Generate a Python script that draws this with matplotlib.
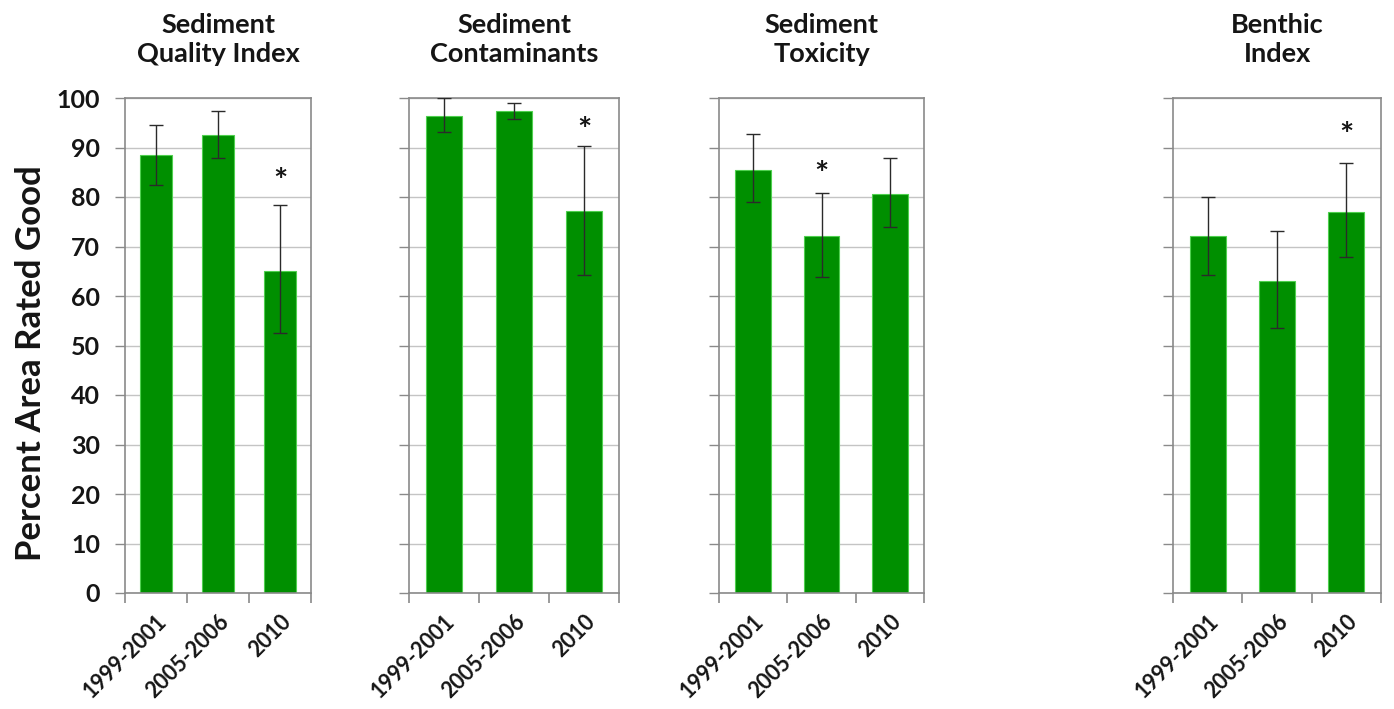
import matplotlib.pyplot as plt
import numpy as np

plt.rcParams['font.family'] = ['Lato', 'DejaVu Sans']
plt.rcParams['font.weight'] = 'bold'

# Survey periods and indicator panels
periods = ['1999-2001', '2005-2006', '2010']
titles = ['Sediment\nQuality Index', 'Sediment\nContaminants',
          'Sediment\nToxicity', 'Benthic\nIndex']

# Percent area rated good, with lower/upper confidence bounds
good = [
    [88.5, 92.5, 65.1],
    [96.4, 97.4, 77.2],
    [85.5, 72.1, 80.7],
    [72.1, 63.0, 76.9],
]
lower = [
    [82.4, 87.8, 52.5],
    [93.1, 95.7, 64.2],
    [78.9, 63.8, 74.0],
    [64.2, 53.5, 67.8],
]
upper = [
    [94.5, 97.4, 78.4],
    [100.0, 98.9, 90.4],
    [92.7, 80.9, 87.8],
    [79.9, 73.1, 86.8],
]
# Significant change flags (asterisk) and where the asterisk sits
star_idx = [2, 2, 1, 2]
star_y = [82.9, 93.2, 84.4, 92.2]

# Axes boxes in figure pixels: left, right
W, H = 1394, 709
boxes = [(125, 311), (409, 619), (719, 924), (1173, 1381)]
top_px, bot_px = 98, 593

fig = plt.figure(figsize=(W / 100, H / 100), dpi=100)

bar_green = '#008f00'
grid_col = '#c4c4c4'
frame_col = '#8a8a8a'
text_col = '#151515'

for k, (l, r) in enumerate(boxes):
    ax = fig.add_axes([l / W, 1 - bot_px / H, (r - l) / W, (bot_px - top_px) / H])
    x = np.arange(len(periods))
    vals = np.array(good[k])
    yerr = [vals - np.array(lower[k]), np.array(upper[k]) - vals]
    ax.bar(x, vals, width=0.52, color=bar_green, edgecolor='#4fd04f',
           linewidth=0.8, zorder=2)
    ax.errorbar(x, vals, yerr=yerr, fmt='none', ecolor='#2a2a2a',
                elinewidth=1.0, capsize=5, capthick=1.0, zorder=3)
    ax.text(star_idx[k], star_y[k], '*', ha='center', va='center',
            fontsize=24, fontweight='bold', color=text_col, zorder=4)

    ax.set_xlim(-0.5, 2.5)
    ax.set_ylim(0, 100)
    ax.set_yticks(np.arange(0, 101, 10))
    ax.grid(axis='y', color=grid_col, linewidth=1.0, zorder=0)
    ax.set_axisbelow(True)

    # category boundary ticks along the bottom, labels at centres
    ax.set_xticks([-0.5, 0.5, 1.5, 2.5])
    ax.set_xticklabels([])
    ax.set_xticks(x, minor=True)
    ax.set_xticklabels(periods, minor=True, rotation=45, ha='right',
                       va='top', rotation_mode='anchor', fontsize=15.5,
                       fontweight='bold', color=text_col)
    ax.tick_params(axis='x', which='major', direction='out', length=7,
                   width=1.2, color=frame_col)
    ax.tick_params(axis='x', which='minor', length=0, pad=13)
    ax.tick_params(axis='y', direction='out', length=7, width=1.0,
                   color=frame_col, labelsize=18, labelcolor=text_col, pad=11)

    for side in ['top', 'right', 'left', 'bottom']:
        ax.spines[side].set_color(frame_col)
        ax.spines[side].set_linewidth(1.2)

    if k == 0:
        for lab in ax.get_yticklabels():
            lab.set_fontweight('bold')
        ax.set_ylabel('Percent Area Rated Good', fontsize=25,
                      fontweight='bold', color=text_col)
        ax.yaxis.set_label_coords(-0.42, 0.465)
    else:
        ax.set_yticklabels([])

    ax.set_title(titles[k], fontsize=19.5, fontweight='bold',
                 color=text_col, pad=26, linespacing=1.25)

fig.savefig('out.png', dpi=100, facecolor='white')
